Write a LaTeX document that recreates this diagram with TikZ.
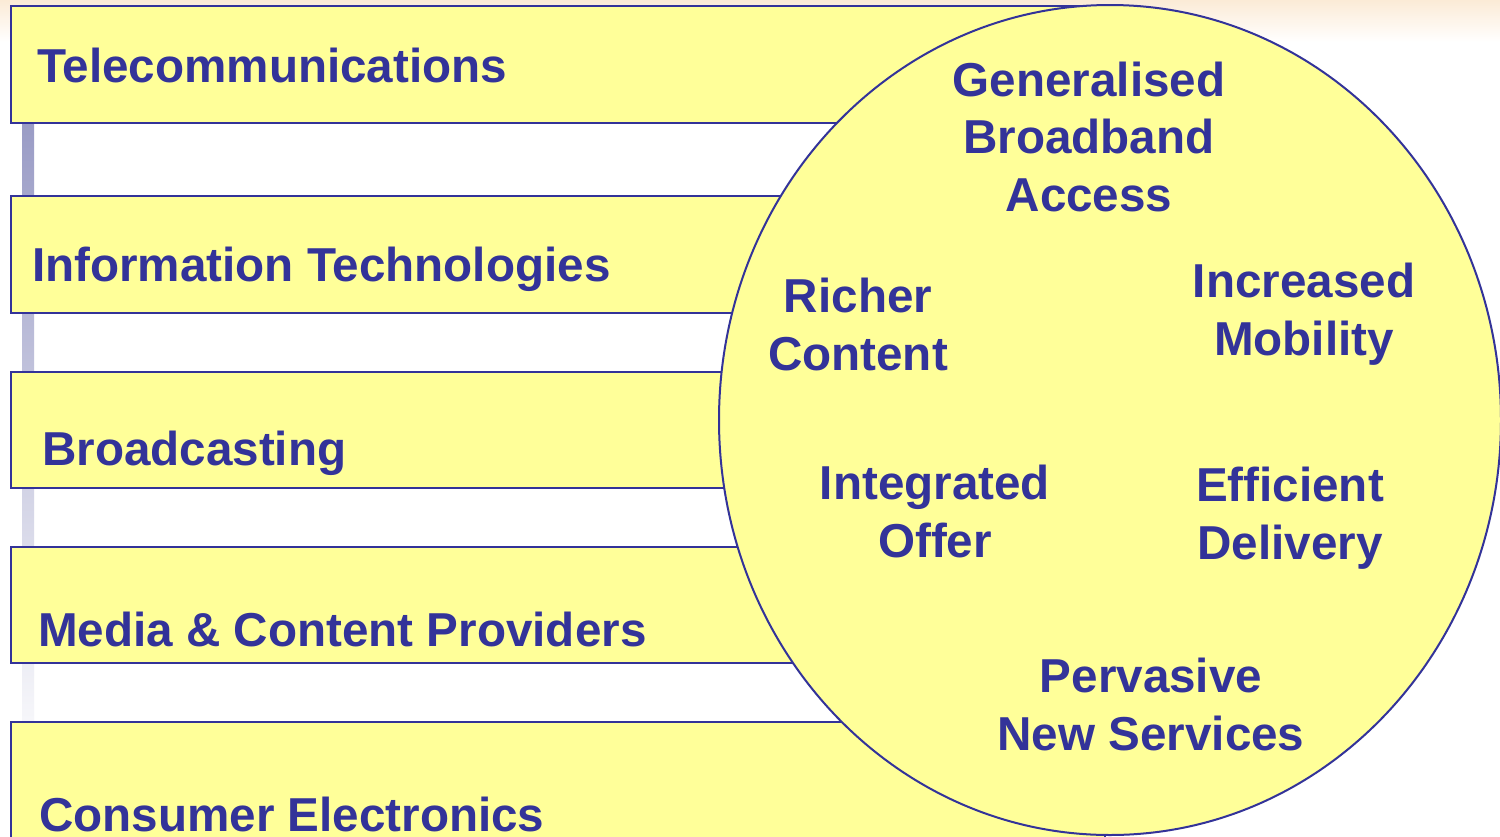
\documentclass[tikz,border=0pt]{standalone}
\usepackage{fontspec}
\setmainfont{Liberation Sans}
\usetikzlibrary{shapes.geometric}
\definecolor{navy}{HTML}{333399}
\definecolor{paleyellow}{HTML}{FFFF99}
\definecolor{peach}{HTML}{FBEBD6}
\definecolor{barblue}{HTML}{999BC5}
\begin{document}
\begin{tikzpicture}[x=1pt,y=-1pt,
  sector/.style={draw=navy,fill=paleyellow,line width=2pt},
  lbl/.style={anchor=base west,inner sep=0pt,text=navy,font=\fontsize{47.6}{57.5}\selectfont\bfseries},
  clbl/.style={anchor=base,inner sep=0pt,text=navy,align=center,font=\fontsize{47.6}{57.5}\selectfont\bfseries}]
\useasboundingbox (0,0) rectangle (1500,836);
\fill[white] (0,0) rectangle (1500,836);
\shade[top color=peach,bottom color=white] (0,0) rectangle (1500,42);
\shade[top color=barblue,bottom color=white!92!barblue] (22,118) rectangle (34,725);
% sector boxes
\path[sector] (11,6) rectangle (1105,123);
\path[sector] (11,196) rectangle (1105,313);
\path[sector] (11,372) rectangle (1105,488);
\path[sector] (11,547) rectangle (1105,663);
\path[sector] (11,722) rectangle (1105,850);
\node[lbl] (tel) at (37,82) {Telecommunications};
\node[lbl] (it) at (32,281) {Information Technologies};
\node[lbl] (bc) at (42,465) {Broadcasting};
\node[lbl] (mc) at (38,646) {Media \& Content Providers};
\node[lbl] (ce) at (39,831) {Consumer Electronics};
% convergence ellipse
\node[ellipse,draw=navy,fill=paleyellow,line width=2pt,inner sep=0pt,
      minimum width=782pt,minimum height=830pt] (conv) at (1110,420) {};
\node[clbl] (gba) at (1089,211) {Generalised\\Broadband\\Access};
\node[clbl] (rc) at (858,370) {Richer\\Content};
\node[clbl] (im) at (1304,355) {Increased\\Mobility};
\node[clbl] (io) at (935,557) {Integrated\\Offer};
\node[clbl] (ed) at (1290,559) {Efficient\\Delivery};
\node[clbl] (pns) at (1151,750) {Pervasive\\New Services};
\end{tikzpicture}
\end{document}
